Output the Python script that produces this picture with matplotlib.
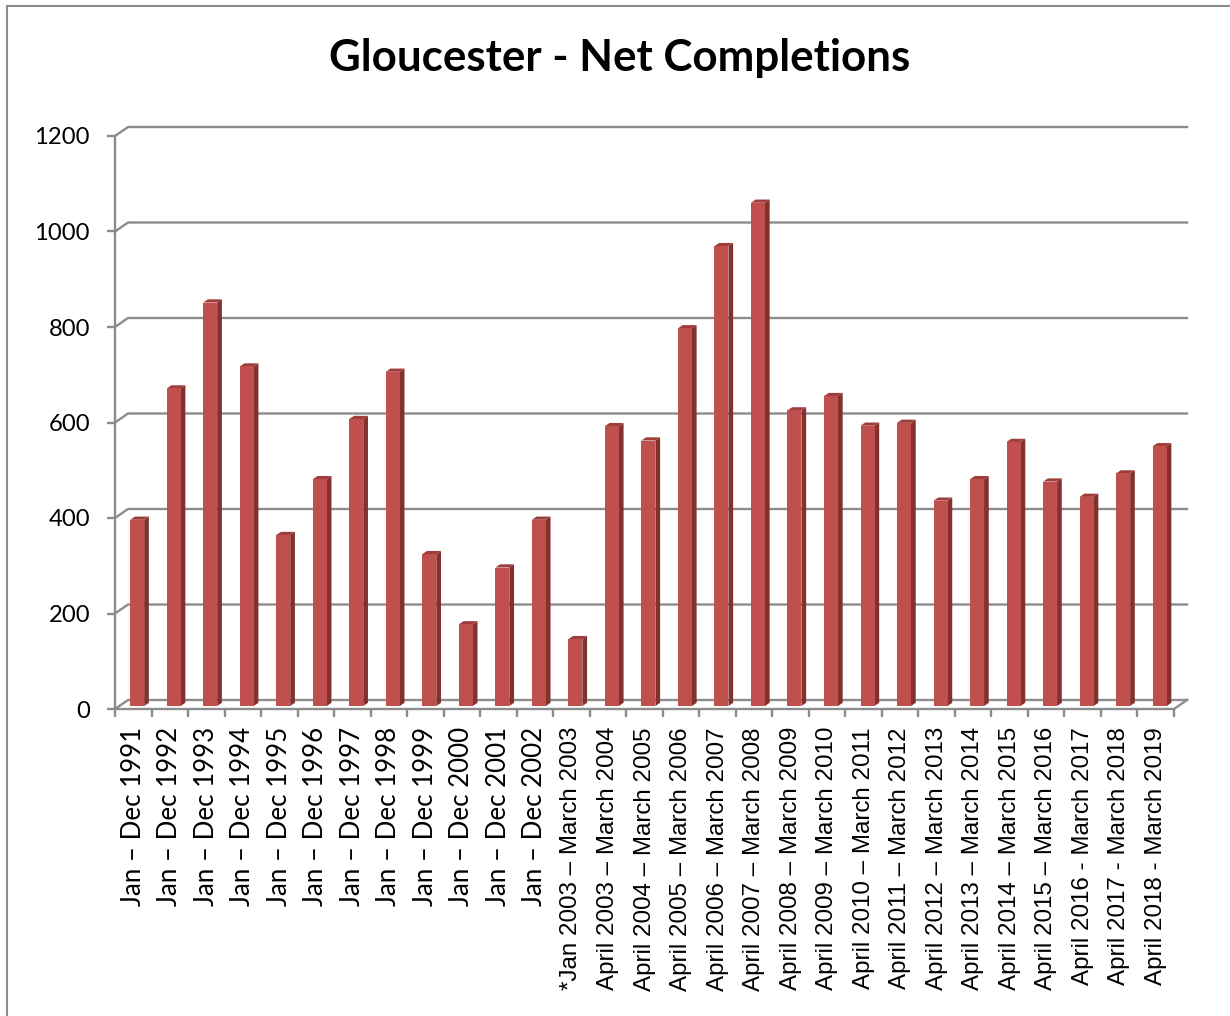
import matplotlib
matplotlib.use("Agg")
import matplotlib.pyplot as plt
from matplotlib.patches import Polygon
from matplotlib.lines import Line2D

# ---------------- data ----------------
categories = [
    "Jan – Dec 1991", "Jan – Dec 1992", "Jan – Dec 1993", "Jan – Dec 1994",
    "Jan – Dec 1995", "Jan – Dec 1996", "Jan – Dec 1997", "Jan – Dec 1998",
    "Jan – Dec 1999", "Jan – Dec 2000", "Jan – Dec 2001", "Jan – Dec 2002",
    "*Jan 2003 – March 2003",
    "April 2003 – March 2004", "April 2004 – March 2005", "April 2005 – March 2006",
    "April 2006 – March 2007", "April 2007 – March 2008", "April 2008 – March 2009",
    "April 2009 – March 2010", "April 2010 – March 2011", "April 2011 – March 2012",
    "April 2012 – March 2013", "April 2013 – March 2014", "April 2014 – March 2015",
    "April 2015 – March 2016", "April 2016 - March 2017", "April 2017 - March 2018",
    "April 2018 - March 2019",
]
completions = [390, 665, 845, 711, 358, 475, 601, 700, 318, 171, 290, 390, 140,
               586, 556, 791, 963, 1054, 619, 649, 587, 593, 430, 475, 553, 470,
               438, 487, 544]
y_ticks = [0, 200, 400, 600, 800, 1000, 1200]
title = "Gloucester - Net Completions"

# ---------------- geometry / style ----------------
W, H = 1230, 1016
fig = plt.figure(figsize=(W / 100, H / 100), dpi=100)
fig.patch.set_facecolor("white")

x0, x1 = 115, 1174          # front plane, pixels
y0, y1 = 709, 136           # value 0 and 1200, pixels from top
ax = fig.add_axes([x0 / W, 1 - y0 / H, (x1 - x0) / W, (y0 - y1) / H])
n = len(categories)
ymax = 1200
ax.set_xlim(0, n)
ax.set_ylim(0, ymax)
ax.set_facecolor("none")

px_per_x = (x1 - x0) / n
px_per_y = (y0 - y1) / ymax

grid_col = "#8c8c8c"
lw = 1.7

# back wall offset
wall_dx_px, wall_dy_px = 13, 9
dxa = wall_dx_px / (x1 - x0)        # axes fraction
dyd = wall_dy_px / px_per_y         # data units
ytr = ax.get_yaxis_transform()

for v in y_ticks:
    ax.add_line(Line2D([0, dxa, 1 + dxa], [v, v + dyd, v + dyd], transform=ytr,
                       color=grid_col, lw=lw, clip_on=False, zorder=1))
# right floor diagonal
ax.add_line(Line2D([1, 1 + dxa], [0, dyd], transform=ytr, color=grid_col,
                   lw=lw, clip_on=False, zorder=1))

# bars (faux 3-D)
front = "#C0504D"
side = "#82312F"
topc = "#9E3E3B"
bw = 14 / px_per_x
shift = 3.9 / px_per_x
base = 3 / px_per_y
ddx = 4.7 / px_per_x
ddy = 3.2 / px_per_y
for i, v in enumerate(completions):
    xc = i + 0.5 + shift
    xl, xr = xc - bw / 2, xc + bw / 2
    top = base + v
    ax.add_patch(Polygon([(xr, base), (xr, top), (xr + ddx, top + ddy), (xr + ddx, base + ddy)],
                         closed=True, facecolor=side, edgecolor="none", zorder=3, clip_on=False))
    ax.add_patch(Polygon([(xl, top), (xr, top), (xr + ddx, top + ddy), (xl + ddx, top + ddy)],
                         closed=True, facecolor=topc, edgecolor="none", zorder=3, clip_on=False))
ax.bar([i + 0.5 + shift for i in range(n)], completions, width=bw, bottom=base,
       color=front, edgecolor="none", zorder=4)

# spines
for s in ["top", "right"]:
    ax.spines[s].set_visible(False)
for s in ["left", "bottom"]:
    ax.spines[s].set_color(grid_col)
    ax.spines[s].set_linewidth(lw)
    ax.spines[s].set_zorder(2)

# y ticks
ax.set_yticks(y_ticks)
ax.set_yticklabels([str(t) for t in y_ticks])
ax.tick_params(axis="y", direction="out", length=5.5, width=lw, color=grid_col, pad=12.5)
for lab in ax.get_yticklabels():
    lab.set_fontfamily("Lato")
    lab.set_fontsize(17.2)

# x ticks at boundaries, labels at centres
ax.set_xticks(range(n + 1))
ax.set_xticklabels([""] * (n + 1))
ax.tick_params(axis="x", which="major", direction="out", length=5.5, width=lw, color=grid_col)
ax.set_xticks([i + 0.5 for i in range(n)], minor=True)
ax.set_xticklabels(categories, minor=True, rotation=90)
ax.tick_params(axis="x", which="minor", length=0, pad=13)
for i, lab in enumerate(ax.get_xticklabels(minor=True)):
    if categories[i].startswith("Jan"):
        lab.set_fontfamily("Lato")
        lab.set_fontsize(18.6)
    else:
        lab.set_fontfamily("Liberation Sans")
        lab.set_fontsize(17.4)
    lab.set_va("top")

# title
fig.text(0.504, 1 - 58 / H, title, ha="center", va="center",
         fontfamily="Lato", fontweight="bold", fontsize=31.6)

# chart border (left & top)
fig.add_artist(Line2D([7 / W, 7 / W], [0, 1 - 6 / H], transform=fig.transFigure,
                      color="#8c8c8c", lw=1.5))
fig.add_artist(Line2D([7 / W, 1], [1 - 6 / H, 1 - 6 / H], transform=fig.transFigure,
                      color="#8c8c8c", lw=1.5))

fig.savefig("out.png", dpi=100, facecolor="white")
